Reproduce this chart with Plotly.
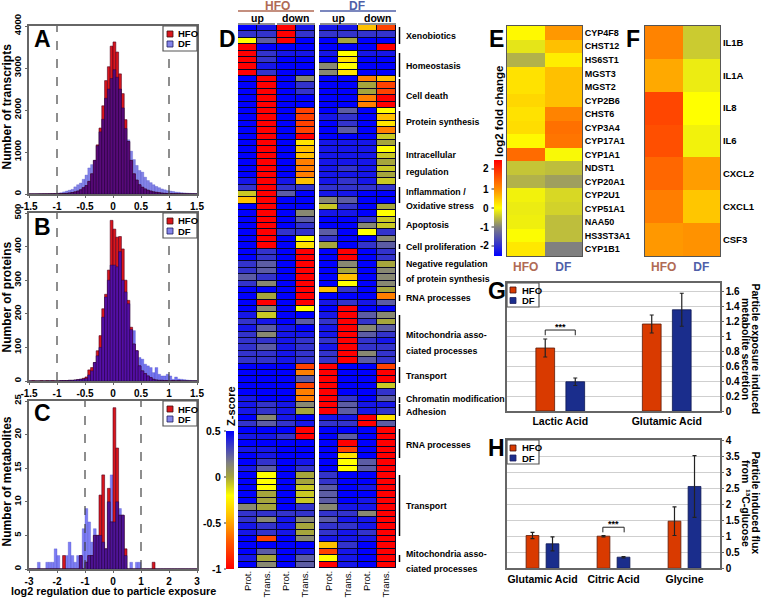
import plotly.graph_objects as go

W, H = 762, 598
FONT = "Liberation Sans"
def X(p): return p / W
def Y(p): return 1 - p / H

# ---------- panels A-C: histograms (bin counts) ----------
A_HFO = [0,0,0,1,1,2,2,3,4,5, 6,8,10,15,25,35,50,70,100,150, 200,300,480,800,1170,1570,2100,2700,3030,3520,
         3620,3380,2860,2390,1770,1250,800,480,330,220, 160,120,90,70,50,40,30,22,15,10, 8,6,5,4,3,2,2,1,1,0]
A_DF = [0,0,1,1,2,2,3,4,6,10, 20,30,50,70,90,110,170,220,260,350, 450,620,700,800,1150,1480,1780,2280,2500,2750,
        2960,2780,2500,2050,1560,1290,1020,820,680,560, 520,400,320,270,220,180,150,120,100,80, 70,60,45,40,30,25,20,15,12,10]
B_HFO = [0,1,0,0,1,0,1,0,1,0, 0,1,1,1,2,2,3,4,5,8, 12,33,40,55,90,135,215,258,330,478,
         452,428,430,393,300,240,160,110,90,45, 30,22,15,10,5,3,2,2,1,1, 0,1,0,1,0,0,0,0,0,0]
B_DF = [0,0,0,0,0,0,0,1,0,0, 0,1,1,1,2,2,3,4,6,6, 8,18,30,55,75,100,190,250,300,345,
        345,340,385,300,265,230,153,150,90,70, 65,50,45,40,25,40,20,15,15,20, 15,5,12,6,5,4,3,2,1,1]
C_HFO = [0,0,0,0,0,0,0,0,0,0, 0,0,2,0,0,0,0,0,2,0, 1,2,2,5,5,11,14,3,12,7,
         24,18,8,8,3,0,0,0,0,0, 0,0,0,0,1,0,0,0,0,0, 0,0,0,0,0,0,0,0,0,0]
C_DF = [0,0,0,1,0,0,1,1,1,3, 2,0,0,2,4,2,1,2,2,6, 9,7,4,6,5,5,4,3,10,14,
        7,10,9,8,2,0,1,0,1,1, 0,0,0,0,0,0,0,0,0,0, 0,0,0,0,0,0,0,0,0,0]
AB_BIN_START, AB_BIN_WIDTH = -1.5, 0.05
C_BIN_START, C_BIN_WIDTH = -3.0, 0.1
AB_TICKS = [-1.5,-1,-0.5,0,0.5,1,1.5]
AB_TICKTEXT = ["-1.5","-1","-0.5","0","0.5","1","1.5"]
C_TICKS = [-3,-2,-1,0,1,2,3]
C_TICKTEXT = ["-3","-2","-1","0","1","2","3"]

# ---------- panel D: z-scores, columns Prot./Trans./Prot./Trans. ----------
D_HFO = [
[.5,.44,-1,.44],[.36,.36,-1,.36],[-.2,.25,-1,.5],[-1,.5,.5,.5],[-1,.36,.44,.44],[-1,.36,.5,.5],[-1,.44,.5,.5],[-1,.36,.5,.5],
[.5,-1,.5,.12],[.5,-1,.5,.36],[.5,-1,.5,.36],[.5,-1,.5,.5],[.5,-1,.5,.5],[.5,-1,.5,-.78],[.5,-1,.5,-.78],[.5,-1,.5,-.78],
[.5,-1,.5,-.78],[.5,-1,.5,-1],[.5,-1,.5,-.3],[.5,-1,.5,-.42],[.5,-1,.5,-.42],[.5,-1,.5,-.6],[.5,-1,.5,-.6],[.5,-1,.5,-.6],
[.44,-1,.44,-.42],[.36,-1,.36,.36],[-.08,-1,.25,.5],[-.42,-1,.5,.5],[.5,-1,.5,.5],[.5,-1,.5,.12],[.5,-1,.5,.25],[.5,-1,.5,.36],
[.5,-1,.36,.36],[.5,-1,.5,-.2],[.5,-1,.5,-.3],[.5,.36,.5,-1],[.5,.36,.5,-1],[.36,.25,.5,-1],[.36,.25,.5,-1],[.25,.36,.5,-1],
[.36,.12,.5,-1],[.5,.5,.5,-1],[.5,0,.5,-1],[.5,-1,.5,-1],[.5,.12,.5,-.2],[.44,-.08,.5,.5],[.36,.44,.5,.25],[.44,.25,.44,.5],
[.36,.12,.44,.44],[.36,.36,.44,.36],[.36,.25,.44,.36],[.36,.36,.44,.36],[.36,.36,.44,.36],[.5,.5,.5,-.78],[.5,.5,.5,-.6],[.5,.5,.5,.25],
[.5,.5,.5,-.78],[.5,.5,.5,-.6],[.44,.5,.5,-.6],[.44,.36,.44,.12],[.44,.36,.44,0],[.5,.12,.44,.5],[.36,.25,.36,.44],[.5,.5,.5,-1],
[.44,.44,.36,-1],[.5,.5,.5,.5],[.44,.44,.5,.5],[.5,.44,.5,.5],[.5,.36,.5,.44],[.44,.25,.5,.36],[.5,-.2,.5,0],[.5,-.2,.5,0],
[.5,-.2,.5,-.08],[.5,0,.5,-.08],[.5,0,.5,-.08],[.12,0,.5,.36],[.36,.36,.36,.36],[.36,.12,.44,.12],[.44,.36,.44,0],[.44,.36,.44,0],
[.5,-.78,.5,.12],[.5,.5,.5,.5],[.5,.25,.5,.44],[.44,0,.5,.25],[.5,.12,.5,.25]]
D_DF = [
[.44,.44,-.42,-.78],[.36,.36,.36,.36],[.5,0,.5,.5],[.5,.5,.5,-1],[.44,-.2,.44,.44],[.5,-.3,.5,.5],[.12,-.2,.5,.5],[.12,-.3,.5,.5],
[.5,.5,-.6,-.42],[.5,.5,0,-.78],[.5,.5,0,-.78],[.5,.5,-.6,-1],[.5,.5,-.6,-1],[.5,.25,.5,-.2],[.44,.36,.5,-.42],[.5,.36,.5,-.3],
[.5,.25,.5,-.6],[.5,.5,.5,-.08],[.44,.44,.44,0],[.44,.44,.44,-.2],[.44,.44,.44,-.08],[.44,.44,.44,0],[.44,.36,.44,-.08],[.44,.44,.44,0],
[.44,.36,.44,-.08],[.36,.36,.36,.36],[.44,.44,.5,.5],[.12,.25,.5,.5],[-.08,.36,.5,0],[.44,.44,.5,-.2],[.5,.5,.36,-.08],[.5,.5,.12,-.08],
[.25,.5,-.2,.36],[.36,.5,.5,.12],[0,.5,.36,.25],[.5,-1,.5,.36],[.5,-1,.5,.36],[.5,.12,.5,0],[.5,0,.5,.12],[.5,-.42,.5,.12],
[.5,-.2,.5,.12],[-.42,.36,.5,0],[.5,.5,.5,-.6],[.44,.36,.44,.25],[.5,-1,.5,.5],[.44,-1,.25,.12],[.36,-1,.36,0],[.44,-1,.12,.25],
[.44,-1,.25,.36],[.36,-1,.36,.44],[.44,-1,.36,.36],[.36,-1,.12,.36],[.36,-1,.25,.36],[-1,.5,.5,-.78],[-1,.5,.5,-1],[-1,.5,.5,-1],
[-1,.5,.5,-.08],[-1,.5,.5,.36],[-1,.36,.5,.25],[-1,.25,.44,.44],[-1,.25,.44,.36],[.44,.44,-1,-.3],[.36,.36,-1,.25],[.5,.5,.5,-1],
[.5,.25,.5,-1],[.5,-1,.5,-1],[.5,-.78,.5,-1],[.5,-.3,.5,-1],[.5,-.2,.25,-1],[.5,-.2,.25,-1],[.36,.5,.5,-1],[.36,.5,.5,-1],
[.25,.5,.44,-1],[.25,.5,.5,-1],[.25,.5,.44,-1],[.12,.44,.44,-1],[.36,.36,.12,-1],[.25,.44,.44,-1],[.36,.36,.44,-1],[.36,.44,.36,-1],
[.44,.44,.44,-1],[-.42,.36,.5,-1],[-.78,.44,.5,-1],[-.2,.44,.5,-1],[-1,.44,.5,-1]]
D_COLUMNS = ["Prot.","Trans.","Prot.","Trans."]
D_GROUPS = [
 (["Xenobiotics"],[36],27,44),(["Homeostasis"],[66],53,77),(["Cell death"],[96],79,107),
 (["Protein synthesis"],[122],111,133),(["Intracellular","regulation"],[155,172],142,179),
 (["Inflammation /","Oxidative stress"],[192,206],187,203),(["Apoptosis"],[225],218,230),
 (["Cell proliferation"],[247],244,249),(["Negative regulation","of protein synthesis"],[264,279],252,286),
 (["RNA processes"],[298],295,301),(["Mitochondria asso-","ciated processes"],[335,351],315,362),
 (["Transport"],[376],367,383),(["Chromatin modification"],[399],397,403),(["Adhesion"],[412],404,416),
 (["RNA processes"],[445],429,458),(["Transport"],[506],475,536),
 (["Mitochondria asso-","ciated processes"],[554,569],555,562)]

# ---------- panels E, F: log2 fold change ----------
E_GENES = ["CYP4F8","CHST12","HS6ST1","MGST3","MGST2","CYP2B6","CHST6","CYP3A4","CYP17A1","CYP1A1",
           "NDST1","CYP20A1","CYP2U1","CYP51A1","NAA50","HS3ST3A1","CYP1B1"]
E_HFO = [.05,-.2,-.6,.25,.25,.35,.25,.3,.05,1.35,-.45,-.6,-.1,-.15,-.12,-.02,.2]
E_DF = [.9,.55,.15,.55,.55,.55,1.1,1.3,1.25,-.05,-.5,-.75,-.3,-.35,-.5,-.5,-1.0]
F_GENES = ["IL1B","IL1A","IL8","IL6","CXCL2","CXCL1","CSF3"]
F_HFO = [1.1,.75,1.75,1.65,1.4,1.15,.9]
F_DF = [-.4,-.15,0,-.1,.85,.5,.95]
CONDITIONS = ["HFO","DF"]

# ---------- panels G, H: bars ----------
G_CATS = ["Lactic Acid","Glutamic Acid"]
G_HFO = [.84,1.16]; G_HFO_ERR = [.12,.12]
G_DF = [.39,1.35]; G_DF_ERR = [.05,.22]
G_TICKS = [0,.2,.4,.6,.8,1,1.2,1.4,1.6]
G_TICKTEXT = ["0","0.2","0.4","0.6","0.8","1","1.2","1.4","1.6"]
H_CATS = ["Glutamic Acid","Citric Acid","Glycine"]
H_HFO = [1.03,1.01,1.48]; H_HFO_ERR = [.1,.02,.45]
H_DF = [.77,.35,2.57]; H_DF_ERR = [.22,.02,.97]
H_TICKS = [0,.5,1,1.5,2,2.5,3,3.5,4]
H_TICKTEXT = ["0","0.5","1","1.5","2","2.5","3","3.5","4"]

RED_H = "rgb(218,22,28)"
BLUE_H = "rgb(132,132,232)"
RED_B = "#d93a00"
BLUE_B = "#1a2d8c"
AXC = "#666666"
HFO_T = "#b06a55"
DF_T = "#4f5fa8"

Z_SCALE = [[0,"rgb(255,0,0)"],[.2,"rgb(255,90,0)"],[.38,"rgb(255,190,0)"],[.533,"rgb(255,255,0)"],
           [.667,"rgb(165,165,60)"],[.767,"rgb(128,128,128)"],[1,"rgb(0,0,255)"]]
LOG_SCALE = [[0,"rgb(0,0,255)"],[.3,"rgb(128,128,128)"],[.4,"rgb(190,190,60)"],[.5,"rgb(255,255,0)"],
             [.7,"rgb(255,140,0)"],[1,"rgb(255,0,0)"]]

fig = go.Figure()
shapes, annots = [], []
layout = dict(width=W, height=H, margin=dict(l=0,r=0,t=0,b=0,autoexpand=False), paper_bgcolor="white",
              plot_bgcolor="rgba(0,0,0,0)", showlegend=False, barmode="overlay",
              font=dict(family=FONT, size=10, color="black"))

def tfont(size=10.5, color="black"):
    return dict(family=FONT, size=size, color=color, weight=700)

def text(x, y, s, size=10.5, color="black", angle=0, anchor="center"):
    annots.append(dict(xref="paper", yref="paper", x=X(x), y=Y(y), text=s, showarrow=False, textangle=angle,
                       font=tfont(size,color), xanchor=anchor, yanchor="middle", align=anchor if anchor!="center" else "center"))

def rect(x0,y0,x1,y1,fill,line="#333333",w=1):
    shapes.append(dict(type="rect",xref="paper",yref="paper",x0=X(x0),x1=X(x1),y0=Y(y0),y1=Y(y1),
                       fillcolor=fill,line=dict(color=line,width=w),layer="above"))

def seg(x0,y0,x1,y1,color="black",w=1.5,dash="solid"):
    shapes.append(dict(type="line",xref="paper",yref="paper",x0=X(x0),x1=X(x1),y0=Y(y0),y1=Y(y1),
                       line=dict(color=color,width=w,dash=dash),layer="above"))

def axes(n, box, xa, ya):
    x0,y0,x1,y1 = box
    sx = "" if n==1 else str(n)
    xa = dict(domain=[X(x0),X(x1)], anchor="y"+sx, **xa)
    ya = dict(domain=[Y(y1),Y(y0)], anchor="x"+sx, **ya)
    layout["xaxis"+sx] = xa; layout["yaxis"+sx] = ya
    return "x"+sx, "y"+sx

def legend(box, red, blue, sq_x, y_red, y_blue, tx):
    rect(*box,"white","#555555",1.2)
    rect(sq_x,y_red-3,sq_x+6,y_red+3,red,"#401010",0.8)
    rect(sq_x,y_blue-3,sq_x+6,y_blue+3,blue,"#202060",0.8)
    text(tx,y_red,"HFO",9.5,anchor="left")
    text(tx,y_blue,"DF",9.5,anchor="left")

def hist(n, box, hfo, df, start, w, xr, ymax, xt, xtt, yt, overlap_colour, blue):
    xa = dict(range=xr, tickmode="array", tickvals=xt, ticktext=xtt, showline=True, mirror=True, linecolor=AXC, linewidth=1.5,
              ticks="outside", ticklen=2, tickcolor=AXC, tickfont=tfont(10), showgrid=False, zeroline=False)
    ya = dict(range=[0,ymax], tickmode="array", tickvals=yt, ticktext=[str(v) for v in yt], tickangle=-90, showline=True, mirror=True,
              linecolor=AXC, linewidth=1.5, ticks="outside", ticklen=2, tickcolor=AXC, tickfont=tfont(9.5), showgrid=False, zeroline=False)
    xn,yn = axes(n, box, xa, ya)
    centres = [start+w*(i+.5) for i in range(len(hfo))]
    overlap = [min(a,b) for a,b in zip(hfo,df)]
    fig.add_bar(x=centres,y=df,width=w,name="DF",xaxis=xn,yaxis=yn,marker=dict(color=blue,line=dict(color="rgba(70,70,190,.6)",width=.5)))
    fig.add_bar(x=centres,y=hfo,width=w,name="HFO",xaxis=xn,yaxis=yn,marker=dict(color=RED_H,line=dict(color="#500020",width=.6)))
    fig.add_bar(x=centres,y=overlap,width=w,name="HFO and DF",xaxis=xn,yaxis=yn,marker=dict(color=overlap_colour,line=dict(color="rgba(10,0,50,.7)",width=.5)))
    for v in (-1,1):
        shapes.append(dict(type="line",xref=xn,yref=yn+" domain",x0=v,x1=v,y0=0,y1=1,line=dict(color="#444444",width=1.2,dash="dash"),layer="above"))

hist(1,(29,26,197,194),A_HFO,A_DF,AB_BIN_START,AB_BIN_WIDTH,[-1.5,1.5],4000,AB_TICKS,AB_TICKTEXT,[0,1000,2000,3000,4000],"rgb(88,10,120)",BLUE_H)
hist(2,(29,213,197,381),B_HFO,B_DF,AB_BIN_START,AB_BIN_WIDTH,[-1.5,1.5],500,AB_TICKS,AB_TICKTEXT,[0,100,200,300,400,500],"rgb(85,15,165)","rgb(115,115,240)")
hist(3,(29,401,197,569),C_HFO,C_DF,C_BIN_START,C_BIN_WIDTH,[-3,3],25,C_TICKS,C_TICKTEXT,[0,5,10,15,20,25],"rgb(80,20,150)","rgb(125,125,245)")
for top in (26,213,401):
    legend((163,top,197,top+25),RED_H,BLUE_H,167,top+8,top+18,175.5)
text(6.5,107,"Number of transcripts",12,angle=-90)
text(6.5,297,"Number of proteins",12,angle=-90)
text(6.5,482,"Number of metabolites",12,angle=-90)
text(113,591,"log2 regulation due to particle exposure",10.8)
for s,x,y in (("A",42,39),("B",42,227),("C",42,413),("D",227,39),("E",496,39),("F",633,39),("G",497,291),("H",496,448)):
    text(x,y,s,23)

# D
def dheat(n, box, z):
    xa = dict(range=[-.5,3.5],tickmode="array",tickvals=[0,1,2,3],ticktext=D_COLUMNS,tickangle=-90,ticks="",tickfont=dict(family=FONT,size=9.5,color="black"),showgrid=False,zeroline=False,showline=False)
    ya = dict(range=[84.5,-.5],showticklabels=False,ticks="",showgrid=False,zeroline=False,showline=False)
    xn,yn = axes(n,box,xa,ya)
    shapes.append(dict(type="rect",xref=xn+" domain",yref=yn+" domain",x0=0,x1=1,y0=0,y1=1,fillcolor="#05052a",line=dict(width=0),layer="below"))
    fig.add_heatmap(z=z,x=[0,1,2,3],y=list(range(85)),xaxis=xn,yaxis=yn,coloraxis="coloraxis",xgap=1,ygap=1)
dheat(4,(238,25,315,568),D_HFO)
dheat(5,(319,25,396,568),D_DF)
layout["coloraxis"] = dict(cmin=-1,cmax=.5,colorscale=Z_SCALE,colorbar=dict(x=X(226),xanchor="left",y=Y(431),yanchor="top",len=138/H,thickness=8,xpad=0,ypad=0,outlinewidth=0,showticklabels=False,ticks=""))
text(277,5.5,"HFO",12,HFO_T); text(357,5.5,"DF",12,DF_T)
seg(238,11,314,11,HFO_T,1.5); seg(320,11,396,11,DF_T,1.5)
text(257,17.5,"up",10.5); text(295,17.5,"down",10.5); text(338,17.5,"up",10.5); text(377,17.5,"down",10.5)
seg(238,24,275,24,"#222",1.2); seg(277,24,315,24,"#222",1.2); seg(320,24,357,24,"#222",1.2); seg(358,24,396,24,"#222",1.2)
for labels,ys,y0,y1 in D_GROUPS:
    seg(399.5,y0,399.5,y1,"black",1.5)
    for s,y in zip(labels,ys):
        text(404,y,s,8.8,anchor="left")
text(231,406,"Z-score",11,angle=-90)
for s,y in (("0.5",431),("0",477),("-0.5",523),("-1",569)):
    text(223,y,s,10.5,anchor="right"); seg(224,y,226,y,"#333",1)

# E, F
def cond_heat(n, box, genes, hfo, df, tsize):
    xa = dict(range=[-.5,1.5],tickmode="array",tickvals=[0,1],ticktext=[f'<span style="color:{HFO_T}">{CONDITIONS[0]}</span>',f'<span style="color:{DF_T}">{CONDITIONS[1]}</span>'],ticks="",tickfont=tfont(12),showline=True,mirror=True,linecolor="#555",linewidth=1,showgrid=False,zeroline=False)
    ya = dict(range=[len(genes)-.5,-.5],tickmode="array",tickvals=list(range(len(genes))),ticktext=genes,side="right",ticks="",ticklen=0,tickfont=tfont(tsize),showline=True,mirror=True,linecolor="#555",linewidth=1,showgrid=False,zeroline=False)
    xn,yn = axes(n,box,xa,ya)
    z = [[a,b] for a,b in zip(hfo,df)]
    fig.add_heatmap(z=z,x=[0,1],y=list(range(len(genes))),xaxis=xn,yaxis=yn,coloraxis="coloraxis2")
cond_heat(6,(507,26,582,256),E_GENES,E_HFO,E_DF,9)
cond_heat(7,(645,26,720,256),F_GENES,F_HFO,F_DF,9.5)
layout["coloraxis2"] = dict(cmin=-2.5,cmax=2.5,colorscale=LOG_SCALE,colorbar=dict(x=X(494),xanchor="left",y=Y(160),yanchor="top",len=96/H,thickness=8,xpad=0,ypad=0,outlinewidth=0,showticklabels=False,ticks=""))
text(499,112,"log2 fold change",11.5,angle=-90)
for s,y in (("2",169),("1",189),("0",208),("-1",227),("-2",246)):
    text(490.5,y,s,10,anchor="right"); seg(491.5,y,494,y,"#333",1)

# G, H
def barpanel(n, box, cats, hfo, he, df, de, rng, yt, ytt, w, off, gridw=1.2):
    xa = dict(range=[-.5,len(cats)-.5],tickmode="array",tickvals=list(range(len(cats))),ticktext=cats,ticks="",tickfont=tfont(10.5),showline=True,mirror=True,linecolor=AXC,linewidth=1.5,showgrid=False,zeroline=False)
    ya = dict(range=rng,tickmode="array",tickvals=yt,ticktext=ytt,side="right",ticks="outside",ticklen=2,tickcolor=AXC,tickfont=tfont(10),showline=True,mirror=True,linecolor=AXC,linewidth=1.5,gridcolor="#cfcfcf",gridwidth=gridw,showgrid=True,zeroline=False)
    xn,yn = axes(n,box,xa,ya)
    idx = list(range(len(cats)))
    eb = dict(type="data",array=he,visible=True,color="#222222",thickness=1.2,width=2)
    fig.add_bar(x=idx,y=hfo,width=w,offset=-off-w/2,name="HFO",xaxis=xn,yaxis=yn,error_y=eb,marker=dict(color=RED_B,line=dict(color="#5a1a08",width=.8)))
    eb2 = dict(eb,array=de)
    fig.add_bar(x=idx,y=df,width=w,offset=off-w/2,name="DF",xaxis=xn,yaxis=yn,error_y=eb2,marker=dict(color=BLUE_B,line=dict(color="#0c1650",width=.8)))
    return xn,yn
gx,gy = barpanel(8,(507,283,720,411),G_CATS,G_HFO,G_HFO_ERR,G_DF,G_DF_ERR,[0,1.707],G_TICKS,G_TICKTEXT,.176,.141)
hx,hy = barpanel(9,(507,440,720,568.3),H_CATS,H_HFO,H_HFO_ERR,H_DF,H_DF_ERR,[0,4.03],H_TICKS,H_TICKTEXT,.18,.141)
legend((507,283,539,307),RED_B,BLUE_B,510,290,300.5,519.5)
legend((507,440,539,464),RED_B,BLUE_B,510,448,458,519.5)
def bracket(xn,yn,i,off,low,top,star):
    for x0,x1,y0,y1 in ((i-off,i-off,low,top),(i-off,i+off,top,top),(i+off,i+off,top,low)):
        shapes.append(dict(type="line",xref=xn,yref=yn,x0=x0,x1=x1,y0=y0,y1=y1,line=dict(color="#222",width=1),layer="above"))
    annots.append(dict(xref=xn,yref=yn,x=i,y=star,text="***",showarrow=False,font=tfont(9),yanchor="middle"))
bracket(gx,gy,0,.141,1.01,1.08,1.12)
bracket(hx,hy,1,.15,1.13,1.29,1.38)
text(755.5,349,"Particle exposure induced",10.5,angle=90)
text(746,349,"metabolite secretion",10.5,angle=90)
text(755.5,503,"Particle induced flux",10.5,angle=90)
text(746,503,"from  ¹³C-glucose",10.5,angle=90)

layout["shapes"] = shapes
layout["annotations"] = annots
fig.update_layout(**layout)
fig.write_html("out.html", config={"displayModeBar":False}, post_script="document.body.style.margin='0';")
